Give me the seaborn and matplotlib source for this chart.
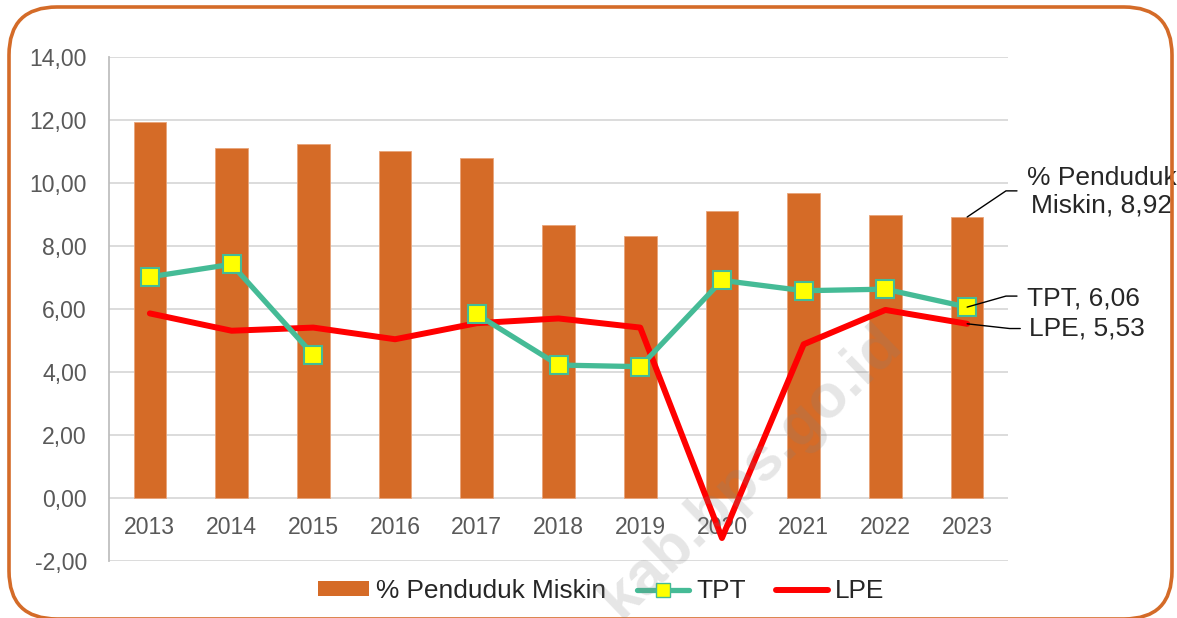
import numpy as np
import pandas as pd
import matplotlib
matplotlib.use("Agg")
import matplotlib.pyplot as plt
import seaborn as sns
from matplotlib.patches import FancyBboxPatch, Patch
from matplotlib.lines import Line2D

# ---- data ----
years = ["2013", "2014", "2015", "2016", "2017", "2018", "2019", "2020", "2021", "2022", "2023"]
miskin = [11.94, 11.11, 11.25, 11.03, 10.79, 8.67, 8.33, 9.11, 9.67, 8.97, 8.92]
tpt = [7.02, 7.42, 4.54, np.nan, 5.83, 4.22, 4.17, 6.91, 6.58, 6.63, 6.06]
lpe = [5.86, 5.31, 5.41, 5.04, 5.55, 5.70, 5.41, -1.27, 4.88, 5.97, 5.53]
yticks = [-2, 0, 2, 4, 6, 8, 10, 12, 14]

ORANGE = "#D56B27"
TEAL = "#45BB96"
RED = "#FF0000"

sns.set_style("white")
plt.rcParams["font.family"] = ["Liberation Sans", "DejaVu Sans"]

fig = plt.figure(figsize=(11.77, 6.18), dpi=100)
ax = fig.add_axes([109 / 1177, 1 - 561 / 618, (1008 - 109) / 1177, (561 - 57) / 618])

idx = np.arange(len(years))
df = pd.DataFrame({"year": years, "idx": idx, "miskin": miskin, "tpt": tpt, "lpe": lpe})

sns.barplot(data=df, x="idx", y="miskin", color=ORANGE, saturation=1, width=0.4,
            ax=ax, zorder=2, edgecolor="#E8A47A", linewidth=0.6)

# TPT with gap for missing year
seg = np.cumsum(pd.isna(df["tpt"]).astype(int))
df_t = df.assign(seg=seg).dropna(subset=["tpt"])
sns.lineplot(data=df_t, x="idx", y="tpt", units="seg", estimator=None, color=TEAL,
             linewidth=3.8, marker="s", markersize=13, markerfacecolor="#FFFF00",
             markeredgecolor=TEAL, markeredgewidth=1.5, ax=ax, zorder=4)
sns.lineplot(data=df, x="idx", y="lpe", color=RED, linewidth=4.3, ax=ax, zorder=3,
             solid_capstyle="round")

ax.set_xlim(-0.5, len(years) - 0.5)
ax.set_ylim(-2, 14)
ax.set_yticks(yticks)
ax.set_yticklabels([f"{v:.2f}".replace(".", ",") for v in yticks])
ax.set_xticks(idx)
ax.set_xticklabels(years)
ax.set_xlabel("")
ax.set_ylabel("")
ax.grid(axis="y", color="#D9D9D9", linewidth=1.3, zorder=0)
ax.set_axisbelow(True)
for s in ["top", "right"]:
    ax.spines[s].set_visible(False)
ax.spines["bottom"].set_position(("data", 0))
ax.spines["bottom"].set_visible(False)
ax.spines["left"].set_color("#BFBFBF")
ax.spines["left"].set_linewidth(1.3)
ax.tick_params(axis="y", length=0, pad=16, labelsize=16.6, labelcolor="#595959")
ax.tick_params(axis="x", length=0, pad=13, labelsize=16.6, labelcolor="#595959")

# data labels with leader lines
lk = dict(color="black", linewidth=1.0, clip_on=False, zorder=6)
ax.plot([10, 10.475, 10.61], [8.92, 9.75, 9.75], **lk)
ax.plot([10, 10.475, 10.61], [6.06, 6.41, 6.41], **lk)
ax.plot([10, 10.52, 10.65], [5.53, 5.38, 5.38], **lk)
ax.text(11.65, 9.73, "% Penduduk\nMiskin, 8,92", ha="center", va="center", fontsize=19,
        linespacing=1.2, clip_on=False, zorder=6)
ax.text(10.73, 6.33, "TPT, 6,06", ha="left", va="center", fontsize=19, clip_on=False, zorder=6)
ax.text(10.76, 5.38, "LPE, 5,53", ha="left", va="center", fontsize=19, clip_on=False, zorder=6)

# legend
handles = [
    Patch(facecolor=ORANGE, edgecolor="none"),
    Line2D([0], [0], color=TEAL, linewidth=3.8, marker="s", markersize=10,
           markerfacecolor="#FFFF00", markeredgecolor=TEAL),
    Line2D([0], [0], color=RED, linewidth=4.3),
]
fig.legend(handles, ["% Penduduk Miskin", "TPT", "LPE"], loc="center",
           bbox_to_anchor=(601 / 1177, 1 - 591 / 618), ncol=3, frameon=False,
           fontsize=18.9, handlelength=1.97, handleheight=0.5, handletextpad=0.27,
           columnspacing=1.17)

# overlay: watermark and rounded border
ov = fig.add_axes([0, 0, 1, 1], zorder=10)
ov.set_xlim(0, 1177)
ov.set_ylim(618, 0)
ov.axis("off")
ov.patch.set_alpha(0)
ov.text(752, 472, "kab.bps.go.id", rotation=44, ha="center", va="center", fontsize=44,
        fontweight="bold", color="#808080", alpha=0.2)
border = FancyBboxPatch((9 + 48, 7 + 48), 1163 - 96, 612 - 96,
                        boxstyle="round,pad=48,rounding_size=48",
                        facecolor="none", edgecolor="#D46B28", linewidth=2.6)
ov.add_patch(border)

fig.savefig("out.png", dpi=100)
